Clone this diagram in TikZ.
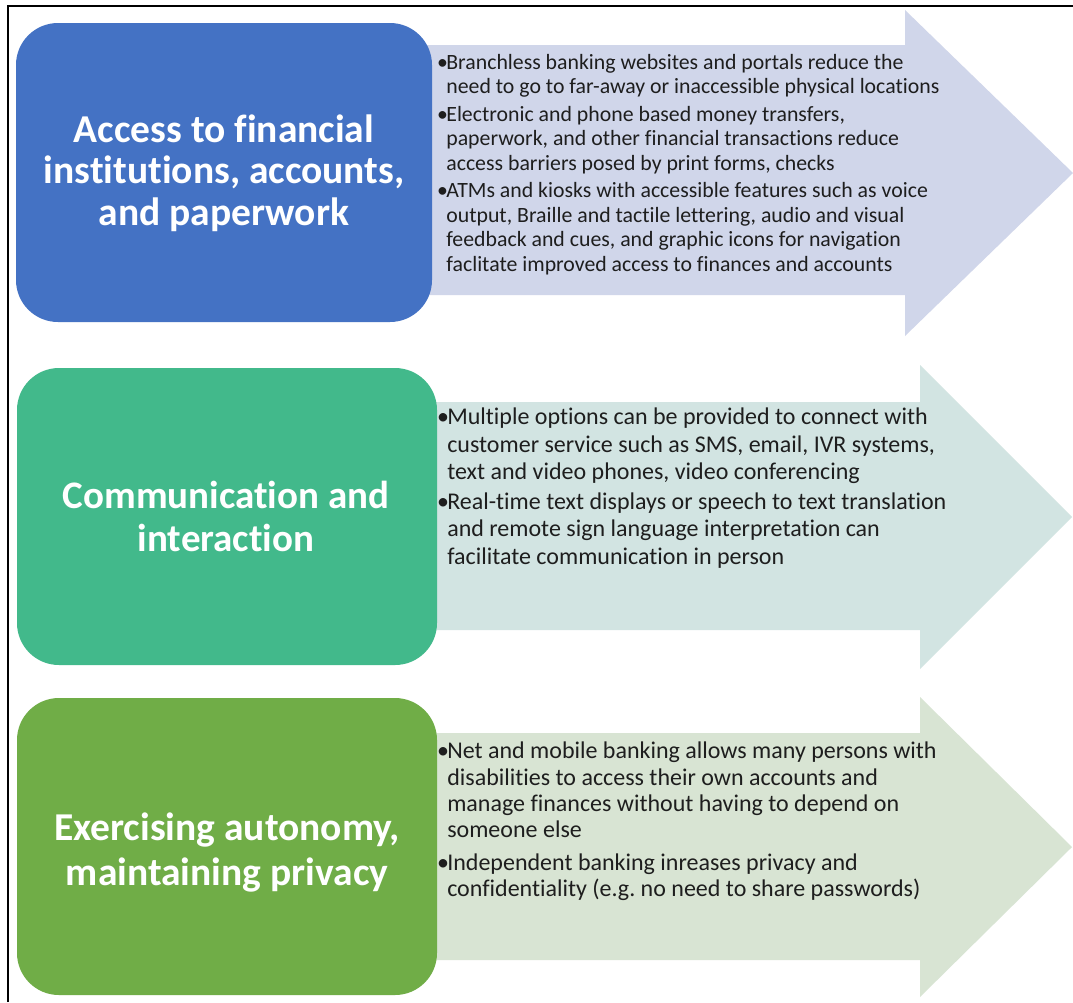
\documentclass[tikz,border=0pt]{standalone}
\usepackage{fontspec}
\setmainfont{Carlito}[Ligatures={NoCommon}, Contextuals={NoAlternate}]
\definecolor{boxblue}{RGB}{68,114,196}
\definecolor{boxteal}{RGB}{66,185,139}
\definecolor{boxgreen}{RGB}{112,173,71}
\definecolor{arrowblue}{RGB}{208,214,234}
\definecolor{arrowteal}{RGB}{210,228,226}
\definecolor{arrowgreen}{RGB}{216,228,211}
\definecolor{bodytext}{RGB}{30,30,30}
\newcommand{\bul}{\makebox[0.42em][l]{•}}
\newcommand{\ind}{\hspace*{0.42em}}
\begin{document}
\begin{tikzpicture}[x=1pt,y=-1pt,
  topic/.style={rounded corners=42pt},
  topictext/.style={text=white, align=center, inner sep=0pt},
  points/.style={text=bodytext, align=left, inner sep=0pt, anchor=north west}]
\useasboundingbox (0,0) rectangle (1073,1002);
\fill[white] (0,0) rectangle (1073,1002);
% outer frame
\draw[line width=1.8pt] (8,1002) -- (8,6) -- (1073,6);

% block arrows
\fill[arrowblue] (400,45) -- (905,45) -- (905,10) -- (1073,173) -- (905,336) -- (905,295) -- (400,295) -- cycle;
\fill[arrowteal] (400,402) -- (920,402) -- (920,365) -- (1072,517) -- (920,669) -- (920,630) -- (400,630) -- cycle;
\fill[arrowgreen] (400,733) -- (920,733) -- (920,697) -- (1072,847) -- (920,997) -- (920,960) -- (400,960) -- cycle;

% topic boxes
\fill[boxblue, topic] (16,23) rectangle (432,322);
\fill[boxteal, topic] (17,368) rectangle (437,665);
\fill[boxgreen, topic] (17,698) rectangle (437,995);

\node[topictext, font=\fontsize{39.5}{41.5}\selectfont\bfseries] (t1) at (224,173)
  {Access to financial\\institutions, accounts,\\and paperwork};
\node[topictext, font=\fontsize{39}{43}\selectfont\bfseries] (t2) at (226,516)
  {Communication and\\interaction};
\node[topictext, font=\fontsize{39.5}{45}\selectfont\bfseries] (t3) at (227,852)
  {Exercising autonomy,\\maintaining privacy};

\node[points, font=\fontsize{21.8}{24.5}\selectfont] (p1) at (437,54) {%
\bul Branchless banking websites and portals reduce the\\
\ind need to go to far-away or inaccessible physical locations\\[3pt]
\bul Electronic and phone based money transfers,\\
\ind paperwork, and other financial transactions reduce\\
\ind access barriers posed by print forms, checks\\[3pt]
\bul ATMs and kiosks with accessible features such as voice\\
\ind output, Braille and tactile lettering, audio and visual\\
\ind feedback and cues, and graphic icons for navigation\\
\ind faclitate improved access to finances and accounts};

\node[points, font=\fontsize{24}{27.5}\selectfont] (p2) at (437,408) {%
\bul Multiple options can be provided to connect with\\
\ind customer service such as SMS, email, IVR systems,\\
\ind text and video phones, video conferencing\\[2pt]
\bul Real-time text displays or speech to text translation\\
\ind and remote sign language interpretation can\\
\ind facilitate communication in person};

\node[points, font=\fontsize{24}{26.3}\selectfont] (p3) at (437,742) {%
\bul Net and mobile banking allows many persons with\\
\ind disabilities to access their own accounts and\\
\ind manage finances without having to depend on\\
\ind someone else\\[6pt]
\bul Independent banking inreases privacy and\\
\ind confidentiality (e.g.\ no need to share passwords)};
\end{tikzpicture}
\end{document}
